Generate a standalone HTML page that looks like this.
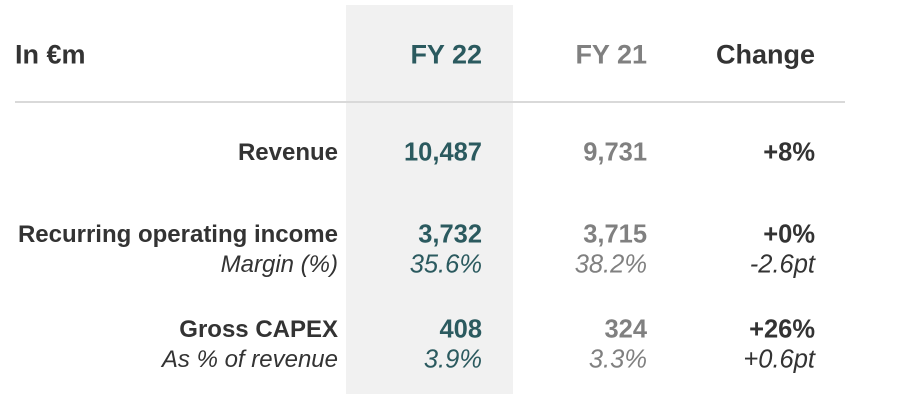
<!DOCTYPE html><html><head><style>
body{margin:0;width:909px;height:404px;background:#fff;position:relative;overflow:hidden;font-family:"Liberation Sans",Arial,sans-serif}
.g{position:absolute;left:346px;top:5px;width:167px;height:389px;background:#f1f1f1}
.l{position:absolute;left:15px;top:101px;width:830px;height:2px;background:#d9d9d9}
.t{position:absolute;white-space:nowrap;transform:translateY(-50%);line-height:1}
.r{text-align:right}
.b{font-weight:bold}.i{font-style:italic}
.c1{right:571px}.c2{right:427px;color:#2b5a5f}.c3{right:262px;color:#808080}.c4{right:94px;color:#333}
.h{font-size:27px}.n{font-size:24px}.m{font-size:25.5px}
</style></head><body>
<div class="g"></div><div class="l"></div>
<div class="t b h" style="left:15px;top:55px;color:#333">In €m</div>
<div class="t b h r c2" style="top:55px">FY 22</div>
<div class="t b h r c3" style="top:55px">FY 21</div>
<div class="t b h r c4" style="top:55px">Change</div>

<div class="t b n r c1" style="top:153px;color:#333">Revenue</div>
<div class="t b m r c2" style="top:153px">10,487</div>
<div class="t b m r c3" style="top:153px">9,731</div>
<div class="t b m r c4" style="top:153px">+8%</div>

<div class="t b n r c1" style="top:235px;color:#333">Recurring operating income</div>
<div class="t b m r c2" style="top:235px">3,732</div>
<div class="t b m r c3" style="top:235px">3,715</div>
<div class="t b m r c4" style="top:235px">+0%</div>
<div class="t i n r c1" style="top:265px;color:#333">Margin (%)</div>
<div class="t i m r c2" style="top:265px">35.6%</div>
<div class="t i m r c3" style="top:265px">38.2%</div>
<div class="t i m r c4" style="top:265px">-2.6pt</div>

<div class="t b n r c1" style="top:330px;color:#333">Gross CAPEX</div>
<div class="t b m r c2" style="top:330px">408</div>
<div class="t b m r c3" style="top:330px">324</div>
<div class="t b m r c4" style="top:330px">+26%</div>
<div class="t i n r c1" style="top:360px;color:#333">As % of revenue</div>
<div class="t i m r c2" style="top:360px">3.9%</div>
<div class="t i m r c3" style="top:360px">3.3%</div>
<div class="t i m r c4" style="top:360px">+0.6pt</div>
</body></html>
